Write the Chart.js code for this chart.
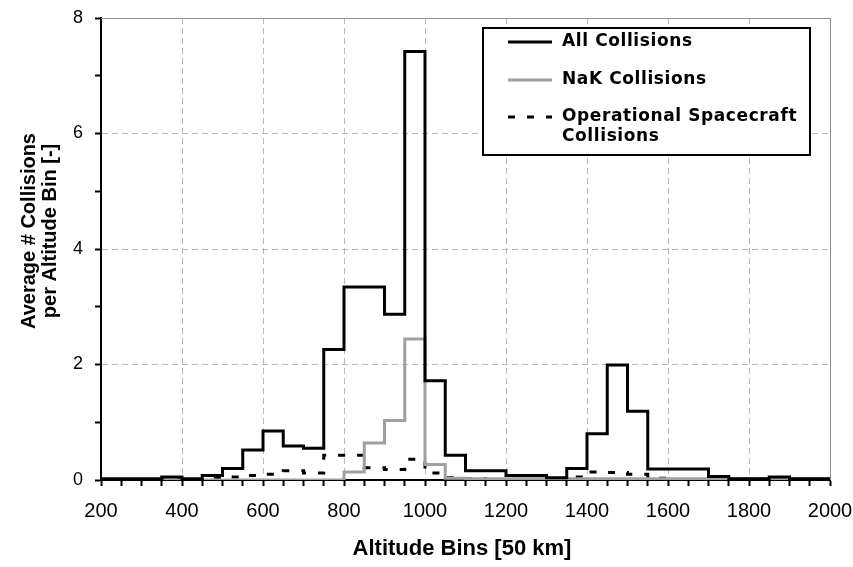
<!DOCTYPE html>
<html>
<head>
<meta charset="utf-8">
<script src="https://cdn.jsdelivr.net/npm/chart.js@4.4.1/dist/chart.umd.min.js"></script>
<style>
  body { margin: 0; background: #fff; }
  #wrap { width: 853px; height: 567px; }
</style>
</head>
<body>
<div id="wrap"><canvas id="myChart" width="853" height="567"></canvas></div>
<script>
// bin edges in km, 50 km wide
var edges = [200, 250, 300, 350, 400, 450, 500, 550, 600, 650, 700, 750, 800, 850, 900, 950,
  1000, 1050, 1100, 1150, 1200, 1250, 1300, 1350, 1400, 1450, 1500, 1550, 1600, 1650, 1700,
  1750, 1800, 1850, 1900, 1950, 2000];

var allCollisions = [0.02, 0.02, 0.02, 0.05, 0.02, 0.08, 0.2, 0.52, 0.85, 0.59, 0.55, 2.26,
  3.34, 3.34, 2.87, 7.42, 1.72, 0.43, 0.16, 0.16, 0.08, 0.08, 0.04, 0.2, 0.8, 1.99, 1.19,
  0.19, 0.19, 0.19, 0.06, 0.02, 0.02, 0.05, 0.02, 0.02];

var nakCollisions = [0, 0, 0, 0, 0, 0, 0, 0, 0, 0, 0, 0,
  0.14, 0.64, 1.03, 2.44, 0.27, 0.03, 0.02, 0.02, 0.02, 0.02, 0.02, 0.02, 0.02, 0.02, 0.02,
  0.02, 0.02, 0.02, 0.02, 0.02, 0.02, 0.02, 0.02, 0.02];

var opCollisions = [0.01, 0.01, 0.01, 0.01, 0.01, 0.03, 0.05, 0.08, 0.1, 0.16, 0.12, 0.43,
  0.43, 0.21, 0.18, 0.36, 0.12, 0.04, 0.02, 0.01, 0.01, 0.01, 0.01, 0.05, 0.14, 0.13, 0.1,
  0.03, 0.01, 0.01, 0.01, 0.01, 0.01, 0.01, 0.01, 0.01];

var legendLabels = ["All Collisions", "NaK Collisions", ["Operational Spacecraft", "Collisions"]];

function toSteps(vals) {
  var pts = vals.map(function (v, i) { return { x: edges[i], y: v }; });
  pts.push({ x: edges[edges.length - 1], y: vals[vals.length - 1] });
  return pts;
}

var extras = {
  id: "extras",
  afterDraw: function (chart) {
    var ctx = chart.ctx;
    var a = chart.chartArea;
    ctx.save();
    // plot frame top/right
    ctx.strokeStyle = "#909090";
    ctx.lineWidth = 1;
    ctx.beginPath();
    ctx.moveTo(a.left, a.top + 0.5);
    ctx.lineTo(a.right + 0.5, a.top + 0.5);
    ctx.lineTo(a.right + 0.5, a.bottom);
    ctx.stroke();

    // axis titles
    ctx.fillStyle = "#000";
    ctx.font = "bold 22px 'Liberation Sans', Arial, sans-serif";
    ctx.textAlign = "center";
    ctx.textBaseline = "middle";
    ctx.fillText("Altitude Bins [50 km]", 462, 549);
    ctx.save();
    ctx.translate(29, 231);
    ctx.rotate(-Math.PI / 2);
    ctx.font = "bold 20px 'Liberation Sans', Arial, sans-serif";
    ctx.fillText("Average # Collisions", 0, 0);
    ctx.fillText("per Altitude Bin [-]", 0, 21);
    ctx.restore();

    // legend box
    var lx = a.right - 347, ly = a.top + 10, lw = 327, lh = 127;
    ctx.fillStyle = "#fff";
    ctx.fillRect(lx, ly, lw, lh);
    ctx.strokeStyle = "#000";
    ctx.lineWidth = 2;
    ctx.strokeRect(lx, ly, lw, lh);
    var rows = [ly + 14, ly + 52, ly + 89];
    chart.data.datasets.forEach(function (ds, i) {
      ctx.strokeStyle = ds.borderColor;
      ctx.lineWidth = 3;
      ctx.setLineDash(ds.borderDash || []);
      ctx.beginPath();
      ctx.moveTo(lx + 25, rows[i]);
      ctx.lineTo(lx + 69, rows[i]);
      ctx.stroke();
      ctx.setLineDash([]);
      ctx.fillStyle = "#000";
      ctx.font = "bold 17px 'DejaVu Sans', Verdana, sans-serif";
      ctx.letterSpacing = "0.6px";
      ctx.textAlign = "left";
      var lab = [].concat(legendLabels[i]);
      lab.forEach(function (t, k) {
        ctx.fillText(t, lx + 79, rows[i] + k * 20);
      });
    });
    ctx.restore();
  }
};

new Chart(document.getElementById("myChart"), {
  type: "line",
  data: {
    datasets: [
      {
        label: "All Collisions",
        data: toSteps(allCollisions),
        borderColor: "#000000",
        borderWidth: 3,
        stepped: true,
        pointRadius: 0,
        fill: false,
      },
      {
        label: "NaK Collisions",
        data: toSteps(nakCollisions),
        borderColor: "#a0a0a0",
        borderWidth: 3,
        stepped: true,
        pointRadius: 0,
        fill: false,
      },
      {
        label: "Operational Spacecraft Collisions",
        data: toSteps(opCollisions),
        borderColor: "#000000",
        borderWidth: 3,
        borderDash: [7, 12],
        stepped: true,
        pointRadius: 0,
        fill: false,
      },
    ],
  },
  options: {
    responsive: false,
    animation: false,
    layout: { padding: { top: 18, right: 23, left: 0, bottom: 0 } },
    plugins: {
      legend: { display: false },
      tooltip: { enabled: false },
    },
    scales: {
      x: {
        type: "linear",
        min: 200,
        max: 2000,
        afterFit: function (s) {
          s.height = 87;
          s.paddingLeft = 0;
          s.paddingRight = 0;
        },
        ticks: {
          stepSize: 50,
          autoSkip: false,
          maxRotation: 0,
          padding: 13,
          color: "#000",
          font: { family: "'Liberation Sans', Arial, sans-serif", size: 20 },
          callback: function (v) { return v % 200 === 0 ? v : ""; },
        },
        grid: {
          color: function (c) { return c.tick && c.tick.value % 200 === 0 ? "#b8b8b8" : "rgba(0,0,0,0)"; },
          tickColor: "#000",
          tickLength: 6,
          tickWidth: 2,
        },
        border: { color: "#000", width: 2, dash: [6, 4] },
      },
      y: {
        min: 0,
        max: 8,
        afterFit: function (s) {
          s.width = 101;
          s.paddingTop = 0;
          s.paddingBottom = 0;
        },
        ticks: {
          stepSize: 1,
          autoSkip: false,
          padding: 12,
          color: "#000",
          font: { family: "'Liberation Sans', Arial, sans-serif", size: 18 },
          callback: function (v) { return v % 2 === 0 ? v : ""; },
        },
        grid: {
          color: function (c) { return c.tick && c.tick.value % 2 === 0 ? "#b8b8b8" : "rgba(0,0,0,0)"; },
          tickColor: "#000",
          tickLength: 6,
          tickWidth: 2,
        },
        border: { color: "#000", width: 2, dash: [6, 4] },
      },
    },
  },
  plugins: [extras],
});
</script>
</body>
</html>
